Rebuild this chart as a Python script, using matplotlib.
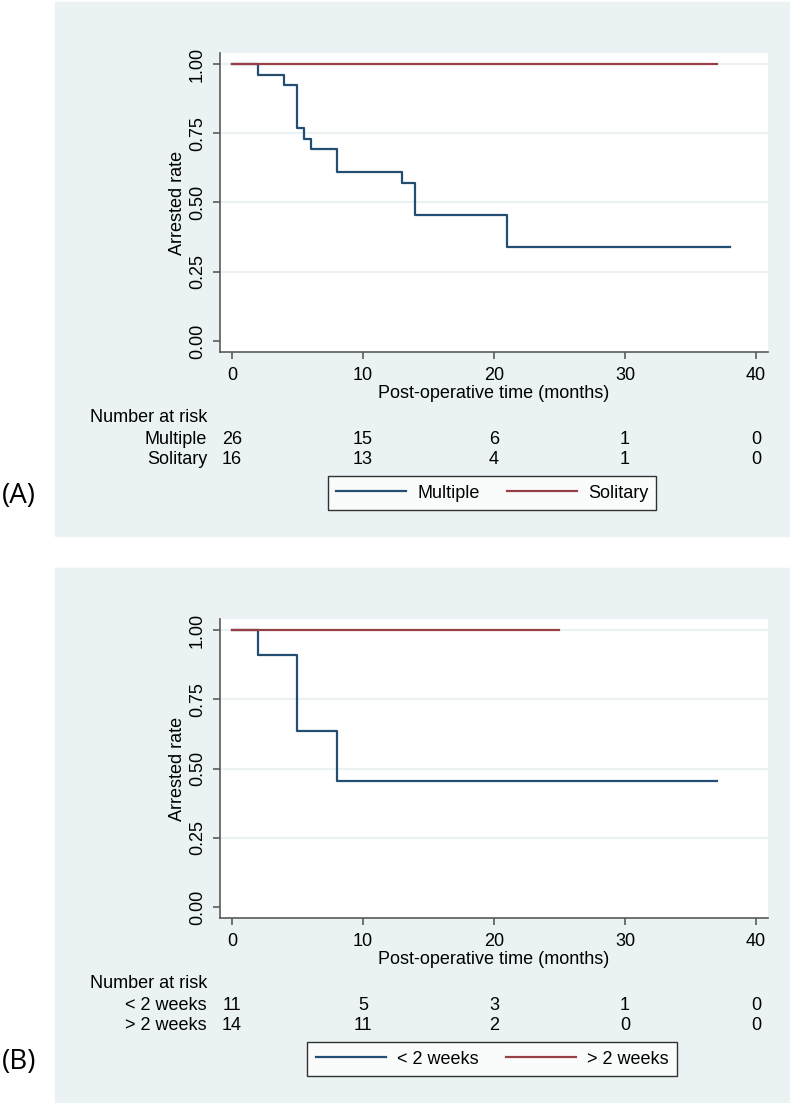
import matplotlib
matplotlib.use('Agg')
import matplotlib.pyplot as plt
from matplotlib.patches import Rectangle

plt.rcParams['font.family'] = ['Liberation Sans', 'DejaVu Sans']

# ---- data ----------------------------------------------------------
# panel A: KM steps (time, rate after the step)
a_multi_t = [0, 2, 4, 5, 5.5, 6, 8, 13, 14, 21, 38]
a_multi_s = [1.0, 0.9615, 0.923, 0.769, 0.731, 0.692, 0.609, 0.569, 0.455, 0.341, 0.341]
a_solit_t = [0, 37]
a_solit_s = [1.0, 1.0]
a_groups = ['Multiple', 'Solitary']
a_risk = [[26, 15, 6, 1, 0], [16, 13, 4, 1, 0]]

# panel B
b_short_t = [0, 2, 5, 8, 37]
b_short_s = [1.0, 0.909, 0.636, 0.4545, 0.4545]
b_long_t = [0, 25]
b_long_s = [1.0, 1.0]
b_groups = ['< 2 weeks', '> 2 weeks']
b_risk = [[11, 5, 3, 1, 0], [14, 11, 2, 0, 0]]

risk_times = [0, 10, 20, 30, 40]
yticks = [0, 0.25, 0.5, 0.75, 1.0]
ytick_labels = ['0.00', '0.25', '0.50', '0.75', '1.00']

W, H = 790, 1103
BG = '#eaf2f3'
BLUE = '#244d72'
RED = '#983f46'
AXC = '#5a5a5a'
FS = 13

fig = plt.figure(figsize=(W / 100, H / 100), dpi=100)


def fx(px):
    return px / W


def fy(py):
    return 1 - py / H


def panel(off, t1, s1, t2, s2, groups, risk, tag):
    # grey-blue graph region
    fig.patches.append(Rectangle((fx(55), fy(536 + off)), fx(790) - fx(55), (536 - 2) / H,
                                 transform=fig.transFigure, color=BG, zorder=-5))
    ax = fig.add_axes([fx(220), fy(352 + off), (768 - 220) / W, (352 - 53) / H])
    ax.set_zorder(2)
    ax.set_facecolor('white')
    ax.set_xlim(-0.916, 40.92)
    ax.set_ylim(-0.0397, 1.0397)
    for y in yticks[1:]:
        ax.axhline(y, color=BG, lw=1.5, zorder=1)
    ax.step(t1, s1, where='post', color=BLUE, lw=1.6, zorder=3)
    ax.step(t2, s2, where='post', color=RED, lw=1.6, zorder=3)
    for sp in ['top', 'right']:
        ax.spines[sp].set_visible(False)
    for sp in ['left', 'bottom']:
        ax.spines[sp].set_color(AXC)
        ax.spines[sp].set_linewidth(1.2)
    ax.set_xticks(risk_times)
    ax.set_yticks(yticks)
    ax.set_yticklabels(ytick_labels, rotation=90, va='center')
    ax.tick_params(colors=AXC, length=5, width=1.2, labelsize=FS, labelcolor='black')
    ax.tick_params(axis='x', pad=6)
    ax.tick_params(axis='y', pad=5)
    ax.set_ylabel('Arrested rate', fontsize=FS, labelpad=2)

    fig.text(fx(494), fy(393 + off), 'Post-operative time (months)', fontsize=FS,
             ha='center', va='center')
    fig.text(fx(90), fy(418 + off), 'Number at risk', fontsize=FS, ha='left', va='center')
    for i, (g, row) in enumerate(zip(groups, risk)):
        yy = fy(440 + 19.5 * i + off)
        fig.text(fx(207), yy, g, fontsize=FS, ha='right', va='center')
        for t, n in zip(risk_times, row):
            xpix = ax.transData.transform((t, 0))[0]
            fig.text(xpix / W, yy, str(n), fontsize=FS, ha='center', va='center')

    h1, = ax.plot([], [], color=BLUE, lw=1.6)
    h2, = ax.plot([], [], color=RED, lw=1.6)
    leg = fig.legend([h1, h2], groups, loc='center', bbox_to_anchor=(fx(492), fy(493 + off)),
                     ncol=2, fontsize=FS, frameon=True, fancybox=False, handlelength=3.9,
                     handletextpad=0.6, columnspacing=1.5, borderpad=0.45)
    leg.get_frame().set_edgecolor('black')
    leg.get_frame().set_linewidth(1.0)

    fig.text(fx(2), fy(496 + off), tag, fontsize=20, family=['Open Sans', 'DejaVu Sans'],
             ha='left', va='center')


panel(0, a_multi_t, a_multi_s, a_solit_t, a_solit_s, a_groups, a_risk, '(A)')
panel(566, b_short_t, b_short_s, b_long_t, b_long_s, b_groups, b_risk, '(B)')

fig.savefig('out.png', dpi=100)
